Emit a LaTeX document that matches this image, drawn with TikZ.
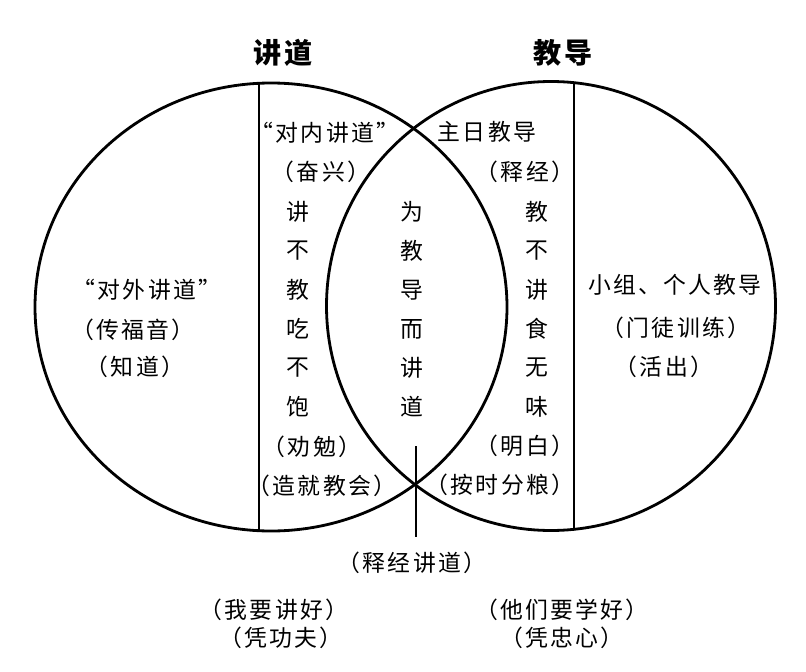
\documentclass[tikz,border=0pt]{standalone}
\usepackage{fontspec}
\setmainfont{Noto Sans CJK SC}[LetterSpace=10]
\usepackage{tikz}

\begin{document}
\begin{tikzpicture}[x=0.03cm, y=-0.03cm, line width=2.4pt,
    txt/.style={font=\fontsize{19.5}{22}\selectfont, inner sep=0pt},
    title/.style={font=\fontsize{24}{28}\selectfont\bfseries, inner sep=0pt}]
    \useasboundingbox (0,0) rectangle (806,672);
    % Circles
    \draw (271,307) ellipse [x radius=236, y radius=224];
    \draw (551,306) circle [radius=224.5];
    % Dividers
    \draw (259,83.3) -- (259,530.7);
    \draw (574,82.7) -- (574,529.3);
    \draw (416,446) -- (416,537);
    % Titles
    \node [title] (preach) at (283,53) {讲道};
    \node [title] (teach) at (563,53) {教导};
    % Outer left
    \node [txt] (outer) at (147,290) {“对外讲道”};
    \node [txt] (gospel) at (133,330) {（传福音）};
    \node [txt] (know) at (135,367) {（知道）};
    % Inner left
    \node [txt] (inner) at (325,133) {“对内讲道”};
    \node [txt] (revive) at (321,172) {（奋兴）};
    \foreach \c [count=\i] in {讲,不,教,吃,不,饱} \node [txt] (l\i) at (298,173+39*\i) {\c};
    \node [txt] (exhort) at (312,447) {（劝勉）};
    \node [txt] (church) at (322,486) {（造就教会）};
    % Middle
    \foreach \c [count=\i] in {为,教,导,而,讲,道} \node [txt] (m\i) at (412,173+39*\i) {\c};
    % Inner right
    \node [txt] (sunday) at (487,132) {主日教导};
    \node [txt] (exeg) at (525,172) {（释经）};
    \foreach \c [count=\i] in {教,不,讲,食,无,味} \node [txt] (r\i) at (537,173+39*\i) {\c};
    \node [txt] (clear) at (525,446) {（明白）};
    \node [txt] (ration) at (500,485) {（按时分粮）};
    % Outer right
    \node [txt] (group) at (675,285) {小组、个人教导};
    \node [txt] (disciple) at (676,328) {（门徒训练）};
    \node [txt] (live) at (664,367) {（活出）};
    % Bottom
    \node [txt] (expo) at (412,563) {（释经讲道）};
    \node [txt] (me) at (274,610) {（我要讲好）};
    \node [txt] (skill) at (281,638) {（凭功夫）};
    \node [txt] (them) at (562,610) {（他们要学好）};
    \node [txt] (heart) at (562,638) {（凭忠心）};
\end{tikzpicture}
\end{document}
